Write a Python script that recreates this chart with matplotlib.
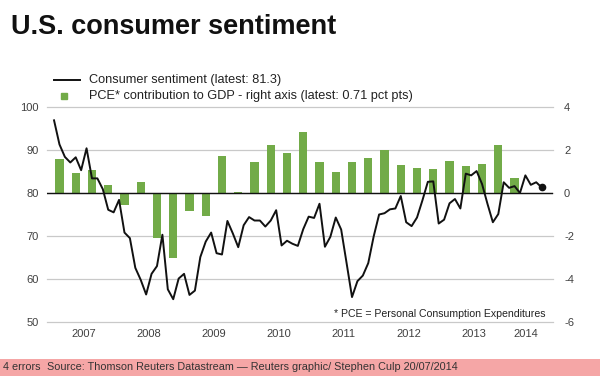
"""U.S. consumer sentiment vs PCE contribution to GDP (Reuters style chart)."""

from __future__ import annotations

import matplotlib

matplotlib.use("Agg")

import matplotlib.pyplot as plt
import numpy as np
from matplotlib.lines import Line2D

GREEN = "#72AB48"
BLACK = "#111111"
GRID = "#C9C9C9"
TICK = "#404040"
PINK = "#F5A6A6"

# Monthly Michigan consumer sentiment, Jan 2007 - Jul 2014
SENTIMENT = [
    96.9, 91.3, 88.4, 87.1, 88.3, 85.3, 90.4, 83.4, 83.4, 80.9, 76.1, 75.5,  # 2007
    78.4, 70.8, 69.5, 62.6, 59.8, 56.4, 61.2, 63.0, 70.3, 57.6, 55.3, 60.1,  # 2008
    61.2, 56.3, 57.3, 65.1, 68.7, 70.8, 66.0, 65.7, 73.5, 70.6, 67.4, 72.5,  # 2009
    74.4, 73.6, 73.6, 72.2, 73.6, 76.0, 67.8, 68.9, 68.2, 67.7, 71.6, 74.5,  # 2010
    74.2, 77.5, 67.5, 69.8, 74.3, 71.5, 63.7, 55.8, 59.5, 60.8, 63.7, 69.9,  # 2011
    75.0, 75.3, 76.2, 76.4, 79.3, 73.2, 72.3, 74.3, 78.3, 82.6, 82.7, 72.9,  # 2012
    73.8, 77.6, 78.6, 76.4, 84.5, 84.1, 85.1, 82.1, 77.5, 73.2, 75.1, 82.5,  # 2013
    81.2, 81.6, 80.0, 84.1, 81.9, 82.5, 81.3,                                # 2014
]

# Quarterly PCE contribution to GDP growth (pct pts), Q1 2007 - Q1 2014
PCE = [
    1.57, 0.91, 1.06, 0.38,
    -0.54, 0.51, -2.08, -3.03,
    -0.82, -1.08, 1.71, 0.03,
    1.43, 2.22, 1.85, 2.82,
    1.43, 1.00, 1.43, 1.62,
    1.99, 1.29, 1.15, 1.11,
    1.51, 1.25, 1.34, 2.22,
    0.71,
]

YEARS = ["2007", "2008", "2009", "2010", "2011", "2012", "2013", "2014"]
YEAR_POS = [5.5, 17.5, 29.5, 41.5, 53.5, 65.5, 77.5, 87.0]

LEFT_TICKS = [50, 60, 70, 80, 90, 100]
RIGHT_TICKS = [-6, -4, -2, 0, 2, 4]

W, H = 600, 376


def fx(px: float) -> float:
    return px / W


def fy(py: float) -> float:
    return 1 - py / H


def main() -> None:
    plt.rcParams.update(
        {
            "font.family": ["Liberation Sans", "DejaVu Sans"],
            "axes.unicode_minus": False,
        }
    )

    fig = plt.figure(figsize=(W / 100, H / 100), dpi=100)
    fig.patch.set_facecolor("white")

    ax2 = fig.add_axes([fx(47), fy(322), fx(553) - fx(47), fy(107) - fy(322)])
    ax = ax2.twinx()
    ax.set_zorder(ax2.get_zorder() + 1)
    ax.patch.set_visible(False)

    months = np.arange(len(SENTIMENT))
    quarters = 1 + 3 * np.arange(len(PCE))

    # grid + bars on right axis
    for t in RIGHT_TICKS:
        ax2.axhline(t, color=GRID, linewidth=0.9, zorder=0, clip_on=False)
    ax2.bar(quarters, PCE, width=1.5, color=GREEN, zorder=2)
    ax2.set_ylim(-6, 4)
    ax2.set_yticks(RIGHT_TICKS)
    ax2.yaxis.tick_right()

    # sentiment on left axis
    ax.axhline(80, color=BLACK, linewidth=1.0, zorder=3)
    ax.plot(months, SENTIMENT, color=BLACK, linewidth=1.4, zorder=4)
    ax.plot(months[-1], SENTIMENT[-1], "o", color=BLACK, markersize=4.5, zorder=5)
    ax.set_ylim(50, 100)
    ax.set_yticks(LEFT_TICKS)
    ax.yaxis.tick_left()

    for a in (ax, ax2):
        a.set_xlim(-1.3, 92.1)
        for s in a.spines.values():
            s.set_visible(False)
        a.tick_params(axis="both", length=0, labelsize=8, labelcolor=TICK)
    ax.tick_params(axis="y", pad=6)
    ax2.tick_params(axis="y", pad=8)
    ax2.set_xticks(YEAR_POS)
    ax2.set_xticklabels(YEARS)
    ax2.tick_params(axis="x", pad=5)

    ax.text(
        0.985, 0.035, "* PCE = Personal Consumption Expenditures",
        transform=ax.transAxes, ha="right", va="center", fontsize=7.6, color="#222222",
    )

    fig.text(fx(11), fy(33.5), "U.S. consumer sentiment", fontsize=19.5,
             fontweight="bold", color=BLACK, ha="left", va="baseline")

    # legend, placed by hand
    fig.add_artist(Line2D([fx(54), fx(80)], [fy(80), fy(80)], color=BLACK,
                          linewidth=1.4, transform=fig.transFigure))
    fig.add_artist(Line2D([fx(64)], [fy(96)], marker="s", linestyle="none",
                          color=GREEN, markersize=5, transform=fig.transFigure))
    fig.text(fx(89), fy(80), "Consumer sentiment (latest: 81.3)",
             fontsize=9.2, color="#222222", ha="left", va="center")
    fig.text(fx(89), fy(96),
             "PCE* contribution to GDP - right axis (latest: 0.71 pct pts)",
             fontsize=9.2, color="#222222", ha="left", va="center")

    # footer band
    fig.patches.append(
        plt.Rectangle((0, 0), 1, 17 / H, transform=fig.transFigure,
                      facecolor=PINK, edgecolor="none", zorder=0)
    )
    fig.text(fx(3), 8.5 / H, "4 errors", fontsize=7.8, color="#333333",
             ha="left", va="center")
    fig.text(fx(47), 8.5 / H,
             "Source: Thomson Reuters Datastream \u2014 Reuters graphic/ Stephen Culp 20/07/2014",
             fontsize=7.8, color="#333333", ha="left", va="center")

    fig.savefig("out.png", dpi=100)
    plt.close(fig)


if __name__ == "__main__":
    main()
